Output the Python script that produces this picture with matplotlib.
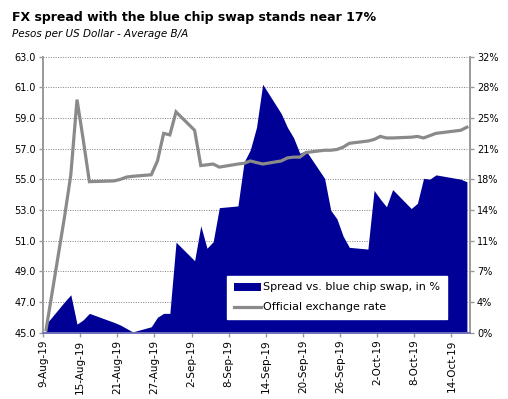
import matplotlib
matplotlib.use("Agg")
import matplotlib.pyplot as plt
import matplotlib.dates as mdates
from matplotlib.patches import Patch
from matplotlib.lines import Line2D
import pandas as pd
import numpy as np

# ---- data ----
dates = ["2019-08-09", "2019-08-12", "2019-08-13", "2019-08-14", "2019-08-15", "2019-08-16",
         "2019-08-20", "2019-08-21", "2019-08-22", "2019-08-23", "2019-08-26", "2019-08-27",
         "2019-08-28", "2019-08-29", "2019-08-30", "2019-09-02", "2019-09-03", "2019-09-04",
         "2019-09-05", "2019-09-06", "2019-09-09", "2019-09-10", "2019-09-11", "2019-09-12",
         "2019-09-13", "2019-09-16", "2019-09-17", "2019-09-18", "2019-09-19", "2019-09-20",
         "2019-09-23", "2019-09-24", "2019-09-25", "2019-09-26", "2019-09-27", "2019-09-30",
         "2019-10-01", "2019-10-02", "2019-10-03", "2019-10-04", "2019-10-07", "2019-10-08",
         "2019-10-09", "2019-10-10", "2019-10-11", "2019-10-15", "2019-10-16"]

official_rate = [45.2, 52.6, 55.3, 60.2, 57.6, 54.85,
                 54.9, 55.0, 55.15, 55.2, 55.3, 56.2,
                 58.0, 57.9, 59.4, 58.2, 55.9, 55.95,
                 56.0, 55.8, 56.0, 56.05, 56.2, 56.1,
                 56.0, 56.2, 56.4, 56.45, 56.45, 56.75,
                 56.9, 56.9, 56.95, 57.1, 57.35, 57.5,
                 57.6, 57.8, 57.7, 57.7, 57.75, 57.8,
                 57.7, 57.85, 58.0, 58.2, 58.4]

spread_pct = [1.0, 3.6, 4.4, 1.0, 1.5, 2.25,
              1.2, 0.9, 0.5, 0.1, 0.7, 1.8,
              2.25, 2.25, 10.5, 8.35, 12.4, 9.8,
              10.55, 14.5, 14.7, 19.8, 21.2, 23.8,
              28.8, 25.4, 23.8, 22.6, 20.8, 21.1,
              17.9, 14.2, 13.2, 11.2, 9.9, 9.7,
              16.5, 15.5, 14.6, 16.6, 14.4, 15.0,
              17.9, 17.8, 18.3, 17.8, 17.5]

tick_dates = ["2019-08-09", "2019-08-15", "2019-08-21", "2019-08-27", "2019-09-02", "2019-09-08",
              "2019-09-14", "2019-09-20", "2019-09-26", "2019-10-02", "2019-10-08", "2019-10-14"]
tick_labels = ["9-Aug-19", "15-Aug-19", "21-Aug-19", "27-Aug-19", "2-Sep-19", "8-Sep-19",
               "14-Sep-19", "20-Sep-19", "26-Sep-19", "2-Oct-19", "8-Oct-19", "14-Oct-19"]

left_ticks = [45, 47, 49, 51, 53, 55, 57, 59, 61, 63]

title = "FX spread with the blue chip swap stands near 17%"
subtitle = "Pesos per US Dollar - Average B/A"
label_spread = "Spread vs. blue chip swap, in %"
label_rate = "Official exchange rate"

# ---- style ----
BLUE = "#000096"
GRAY = "#8a8a8a"
AXC = "#9a9a9a"
plt.rcParams['font.family'] = ['DejaVu Sans']

x = mdates.date2num(pd.to_datetime(dates).to_pydatetime()) + 0.5  # centre of day slot
xt = mdates.date2num(pd.to_datetime(tick_dates).to_pydatetime())
x0 = mdates.date2num(pd.Timestamp("2019-08-09").to_pydatetime())
x1 = mdates.date2num(pd.Timestamp("2019-10-17").to_pydatetime())

fig = plt.figure(figsize=(5.08, 3.99), dpi=100)
ax2 = fig.add_axes([0.0846, 0.166, 0.8406, 0.692])  # area (right axis)
ax = ax2.twinx()  # line (left axis)

# area axis: ticks on right
ax2.fill_between(x, 0, np.array(spread_pct) / 100.0, color=BLUE, linewidth=0, zorder=2)
ax2.set_ylim(0, 0.32)
ax2.set_yticks(np.linspace(0, 0.32, 10))
ax2.set_yticklabels([f"{v*100:.0f}%" for v in np.linspace(0, 0.32, 10)])
ax2.yaxis.tick_right()
ax2.grid(axis='y', linestyle=(0, (1, 1.5)), color="#808080", linewidth=0.7, zorder=0)
ax2.set_axisbelow(True)
ax2.set_xlim(x0, x1)
ax2.set_xticks(xt)
ax2.set_xticklabels(tick_labels, rotation=90)

# line axis: ticks on left
ax.plot(x, official_rate, color=GRAY, linewidth=2.3, solid_joinstyle='miter', zorder=3)
ax.set_ylim(45, 63)
ax.set_yticks(left_ticks)
ax.set_yticklabels([f"{v:.1f}" for v in left_ticks])
ax.yaxis.tick_left()
ax.set_xlim(x0, x1)

ax.set_zorder(ax2.get_zorder() + 1)
ax.patch.set_visible(False)

for a in (ax, ax2):
    for s in a.spines.values():
        s.set_color(AXC)
        s.set_linewidth(1.2)
    a.spines['top'].set_visible(False)
    a.tick_params(axis='both', colors=AXC, labelcolor='black', labelsize=7, length=3, width=1)
ax2.tick_params(axis='x', labelsize=7.5, pad=2)
ax2.spines['bottom'].set_color("#7070b8")
ax.spines['bottom'].set_color("#7070b8")
ax.tick_params(axis='y', pad=2)
ax2.tick_params(axis='y', pad=2)

fig.text(12 / 508, 1 - 18 / 399, title, fontsize=9, fontweight='bold', va='center', ha='left')
fig.text(12 / 508, 1 - 34 / 399, subtitle, fontsize=7.5, style='italic', va='center', ha='left')

handles = [Patch(facecolor=BLUE, edgecolor='none'),
           Line2D([0], [0], color=GRAY, linewidth=2.3)]
leg = ax.legend(handles, [label_spread, label_rate], loc='center',
                bbox_to_anchor=(227 / 508, 1 - 323 / 399, 220 / 508, 51 / 399),
                bbox_transform=fig.transFigure, fontsize=8, frameon=True, fancybox=False,
                framealpha=1, edgecolor='white', facecolor='white', borderpad=0.6,
                handlelength=2.4, handletextpad=0.2, labelspacing=0.9, borderaxespad=0)

fig.savefig("out.png", dpi=100)
